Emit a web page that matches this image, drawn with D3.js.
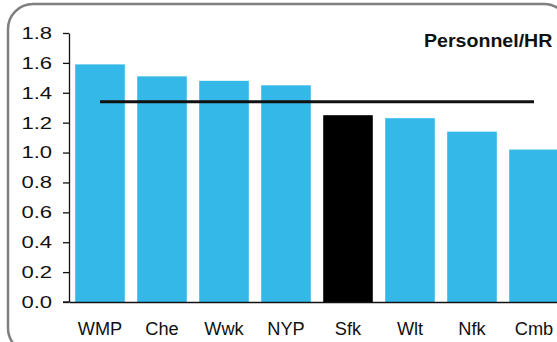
<!DOCTYPE html>
<html>
<head>
<meta charset="utf-8">
<script src="https://cdn.jsdelivr.net/npm/d3@7"></script>
<style>
  html, body { margin: 0; padding: 0; background: #fff; overflow: hidden; }
  svg { display: block; }
  text { font-family: "Liberation Sans", Arial, sans-serif; fill: #111; }
</style>
</head>
<body>
<svg id="chart" width="557" height="342"></svg>
<script>
const categories = ["WMP", "Che", "Wwk", "NYP", "Sfk", "Wlt", "Nfk", "Cmb"];
const values = [1.59, 1.51, 1.48, 1.45, 1.25, 1.23, 1.14, 1.02];
const benchmark = [1.34, 1.34, 1.34, 1.34, 1.34, 1.34, 1.34, 1.34];
const highlight = "Sfk";
const yTicks = [0, 0.2, 0.4, 0.6, 0.8, 1.0, 1.2, 1.4, 1.6, 1.8];
const title = "Personnel/HR";

const svg = d3.select("#chart");

// frame
svg.append("rect")
  .attr("x", 8).attr("y", 4)
  .attr("width", 561).attr("height", 349)
  .attr("rx", 25).attr("ry", 25)
  .attr("fill", "none")
  .attr("stroke", "#7f7f7f")
  .attr("stroke-width", 2.5);

const x = d3.scaleBand()
  .domain(categories)
  .range([69, 565])
  .paddingInner(0.2)
  .paddingOuter(0.1);

const y = d3.scaleLinear()
  .domain([0, 1.8])
  .range([302, 33]);

// bars
svg.append("g").selectAll("rect")
  .data(categories)
  .join("rect")
  .attr("x", d => x(d))
  .attr("y", (d, i) => y(values[i]))
  .attr("width", x.bandwidth())
  .attr("height", (d, i) => y(0) - y(values[i]))
  .attr("fill", d => d === highlight ? "#000000" : "#33B8E8");

// benchmark line
const line = d3.line()
  .x((d, i) => x(categories[i]) + x.bandwidth() / 2)
  .y(d => y(d));
svg.append("path")
  .datum(benchmark)
  .attr("d", line)
  .attr("fill", "none")
  .attr("stroke", "#111")
  .attr("stroke-width", 2.8);

// y axis
const yAxis = svg.append("g")
  .attr("transform", "translate(69,0)")
  .call(d3.axisLeft(y).tickValues(yTicks).tickFormat(d3.format(".1f")).tickSize(6).tickSizeOuter(0).tickPadding(7));
yAxis.select(".domain").attr("stroke", "#111").attr("stroke-width", 1.3);
yAxis.selectAll(".tick line").attr("stroke", "#111").attr("stroke-width", 1.3);
yAxis.selectAll(".tick text")
  .attr("font-size", "17px")
  .attr("font-family", "Liberation Sans, Arial, sans-serif")
  .attr("fill", "#111")
  .attr("transform", "scale(1.3,1)");

// x axis
const xAxis = svg.append("g")
  .attr("transform", "translate(0,302)")
  .call(d3.axisBottom(x).tickSize(0).tickSizeOuter(0).tickPadding(21));
xAxis.select(".domain").attr("stroke", "#111").attr("stroke-width", 1.3);
xAxis.selectAll(".tick text")
  .attr("font-size", "17.5px")
  .attr("font-family", "Liberation Sans, Arial, sans-serif")
  .attr("fill", "#111")
  .attr("transform", "scale(1.04,1)");
// extend baseline to meet the 0.0 tick
svg.append("line")
  .attr("x1", 63).attr("x2", 69)
  .attr("y1", y(0)).attr("y2", y(0))
  .attr("stroke", "#111").attr("stroke-width", 1.3);

// title
svg.append("text")
  .attr("x", 424 / 1.12)
  .attr("y", 47)
  .attr("transform", "scale(1.12,1)")
  .attr("font-size", "17.5px")
  .attr("font-weight", "bold")
  .text(title);
</script>
</body>
</html>
